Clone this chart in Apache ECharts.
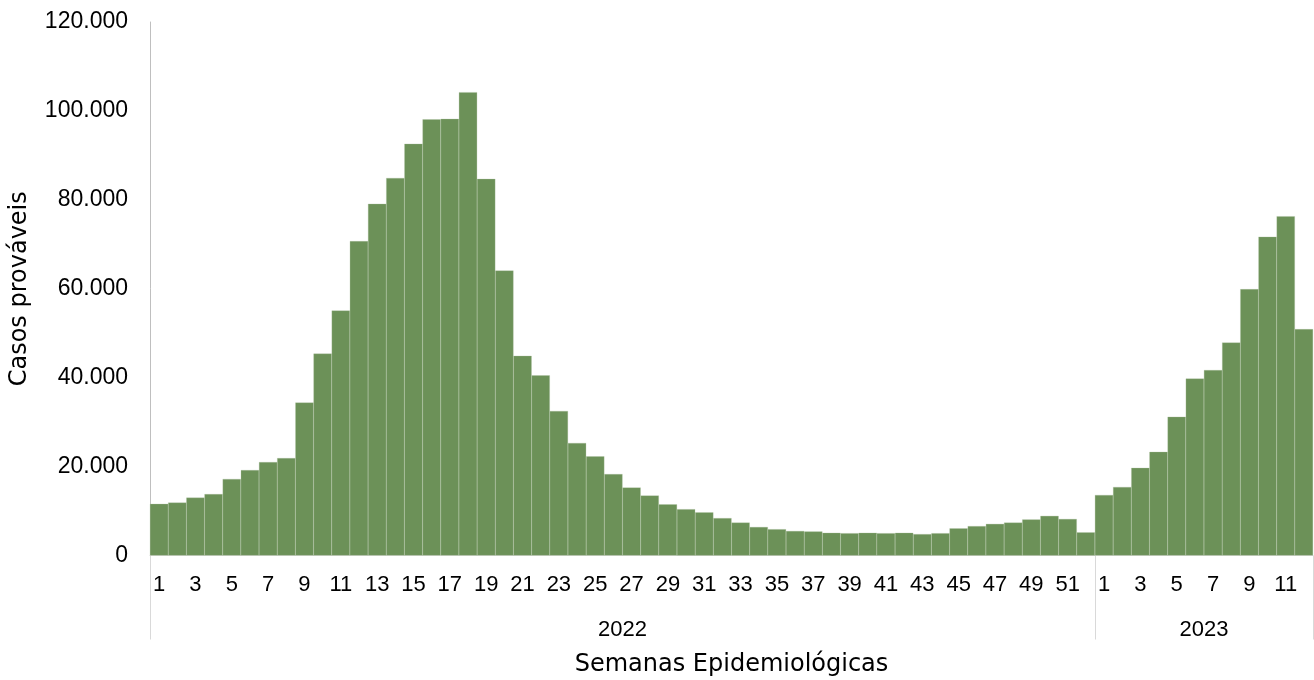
<!DOCTYPE html>
<html>
<head>
<meta charset="utf-8">
<script src="https://cdn.jsdelivr.net/npm/echarts@6/dist/echarts.min.js"></script>
<style>html,body{margin:0;padding:0;background:#fff;}#c{width:1314px;height:680px;}</style>
</head>
<body>
<div id="c"></div>
<script>
const weeks = ['1','2','3','4','5','6','7','8','9','10','11','12','13','14','15','16','17','18','19','20','21','22','23','24','25','26','27','28','29','30','31','32','33','34','35','36','37','38','39','40','41','42','43','44','45','46','47','48','49','50','51','52',
               '1','2','3','4','5','6','7','8','9','10','11','12'];
const cases = [11600,11900,13000,13800,17200,19200,21000,21900,34400,45400,55100,70700,79100,84900,92600,98100,98200,104200,84700,64100,44900,40500,32500,25300,22300,18300,15300,13500,11500,10400,9700,8400,7400,6400,5900,5500,5400,5100,5000,5100,5000,5100,4800,5000,6100,6600,7100,7400,8100,8900,8200,5200,
               13600,15400,19700,23300,31200,39800,41700,47900,59900,71700,76300,50900];
const years = ['2022','2023'];
const yearLen = [52, 12];
const yTicks = [0, 20000, 40000, 60000, 80000, 100000, 120000];

const yearEdges = [0, yearLen[0], yearLen[0] + yearLen[1]];
const yearCenters = [yearLen[0] / 2, yearLen[0] + yearLen[1] / 2];

const chart = echarts.init(document.getElementById('c'));
const fmt = v => String(v).replace(/\B(?=(\d{3})+(?!\d))/g, '.');
chart.setOption({
  animation: false,
  grid: { left: 150, right: 1, top: 22, bottom: 124.5, containLabel: false, outerBoundsMode: 'none' },
  xAxis: [{
    type: 'category',
    data: weeks,
    axisLine: { show: true, lineStyle: { color: '#d9d9d9', width: 1 } },
    axisTick: { show: false },
    axisLabel: { interval: 1, color: '#000', fontFamily: 'Liberation Sans', fontSize: 22, margin: 18 }
  }, {
    type: 'value',
    position: 'bottom',
    min: 0, max: yearEdges[2],
    axisLine: { show: false },
    splitLine: { show: false },
    axisTick: { show: true, customValues: yearEdges, length: 84, lineStyle: { color: '#d9d9d9', width: 1 } },
    axisLabel: {
      customValues: yearCenters,
      formatter: v => years[yearCenters.indexOf(v)] || '',
      color: '#000', fontFamily: 'Liberation Sans', fontSize: 22, margin: 63
    },
    name: 'Semanas Epidemiológicas', nameLocation: 'middle', nameGap: 97,
    nameTextStyle: { fontFamily: 'DejaVu Sans', fontSize: 24, color: '#000' }
  }],
  yAxis: {
    type: 'value', min: yTicks[0], max: yTicks[yTicks.length - 1], interval: yTicks[1] - yTicks[0],
    axisLine: { show: true, lineStyle: { color: '#bfbfbf', width: 1 } },
    axisTick: { show: false },
    splitLine: { show: false },
    axisLabel: { formatter: v => fmt(v), color: '#000', fontFamily: 'Liberation Sans', fontSize: 23, margin: 22 },
    name: 'Casos prováveis', nameLocation: 'middle', nameGap: 118,
    nameTextStyle: { fontFamily: 'DejaVu Sans', fontSize: 24, color: '#000' }
  },
  series: [{
    type: 'bar',
    data: cases,
    barCategoryGap: '0%',
    itemStyle: { color: '#6c9158', borderColor: '#a9bf9c', borderWidth: 0.3 }
  }]
});
</script>
</body>
</html>
